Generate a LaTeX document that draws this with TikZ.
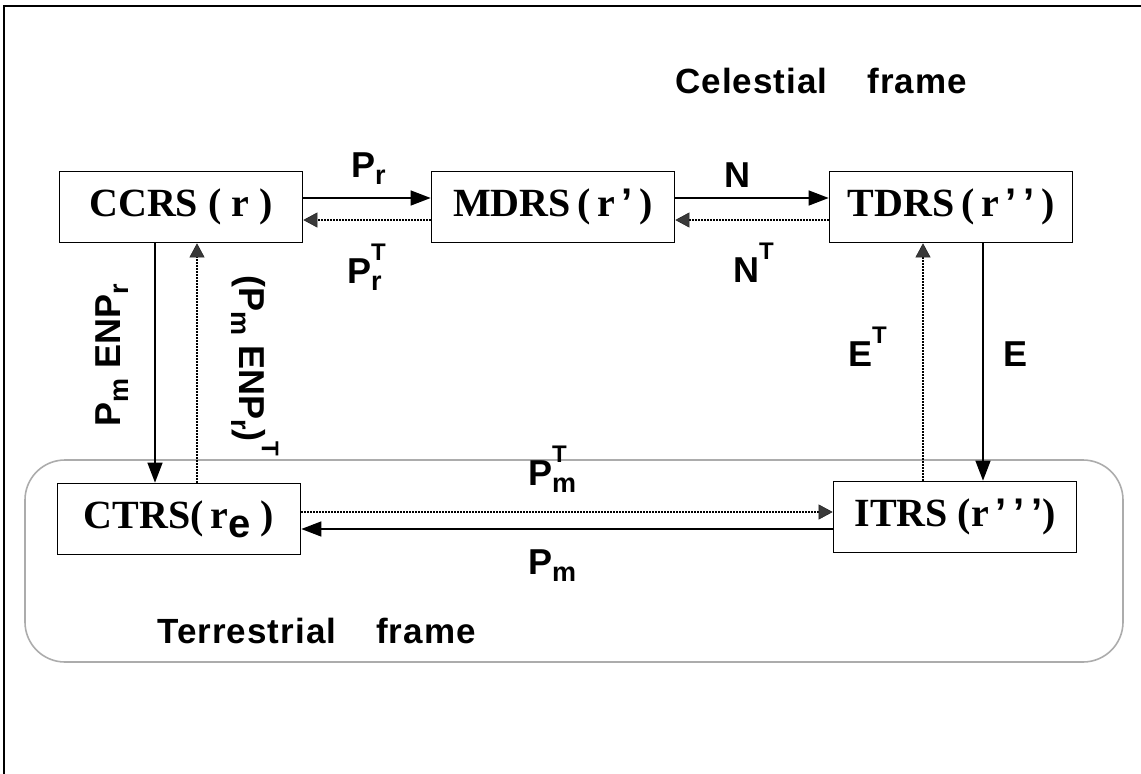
\documentclass[tikz,border=0pt]{standalone}
\usepackage{fontspec}
\setmainfont{Liberation Serif}
\setsansfont{Liberation Sans}
\newfontfamily\spacedsf[LetterSpace=3]{Liberation Sans}
\usepackage{tikz}
\usetikzlibrary{arrows.meta}

\newcommand\boxfont{\fontsize{40}{44}\selectfont\bfseries}
\newcommand\lblfont{\fontsize{36}{40}\selectfont\sffamily\bfseries}
\newcommand\ttlfont{\fontsize{35}{40}\selectfont\spacedsf\bfseries}
\newcommand\q{{\sffamily\char"27}}
\newcommand\sbs[1]{\raisebox{-0.22em}{\fontsize{27}{27}\selectfont #1}}
\newcommand\sps[1]{\raisebox{0.62em}{\fontsize{24}{24}\selectfont #1}}
\newcommand\supsub[2]{\makebox[0pt][l]{\sps{#1}}\sbs{#2}}

\tikzset{
  frm/.style={draw, line width=1.7pt, minimum width=243pt, minimum height=71pt, inner sep=0pt, font=\boxfont},
  lbl/.style={font=\lblfont, inner sep=0pt, anchor=base west},
  fwd/.style={-{Triangle[length=20pt,width=15pt]}, line width=1.4pt},
  bwd/.style={-{Triangle[length=14pt,width=15pt,fill=gray!45!black,color=gray!30!black,line width=0.6pt]}, line width=1.4pt, dash pattern=on 1.5pt off 1.5pt},
}

\begin{document}
\begin{tikzpicture}[x=1pt, y=-1pt]
  \useasboundingbox (0,0) rectangle (1141,774);

  % Outer border (left and top only)
  \draw[line width=2pt] (4,774) -- (4,6) -- (1141,6);

  % Terrestrial frame region
  \draw[gray!65, line width=1.6pt, rounded corners=40pt] (25,460) rectangle (1123,662);

  % Reference systems
  \node[frm] (ccrs) at (181,207) {CCRS\ (\ r\ )};
  \node[frm] (mdrs) at (553,207) {MDRS\,(\,r\,\q\,)};
  \node[frm] (tdrs) at (951,207) {TDRS\,(\,r\,\q\,\q\,)};
  \node[frm] (ctrs) at (179,519) {CTRS(\,r\raisebox{-9pt}{\sffamily e}\ )};
  \node[frm] (itrs) at (955,517) {ITRS\ (r\,\q\,\q\,\q)};

  % Frame titles
  \node[lbl, font=\ttlfont] (celtitle) at (675,93) {Celestial\hspace{40pt}frame};
  \node[lbl, font=\ttlfont] (tertitle) at (157,643) {Terrestrial\hspace{40pt}frame};

  % Forward transformations
  \draw[fwd] ([yshift=9pt]ccrs.east) -- ([yshift=9pt]ccrs.east -| mdrs.west);
  \draw[fwd] ([yshift=9pt]mdrs.east) -- ([yshift=9pt]mdrs.east -| tdrs.west);
  \draw[fwd] ([xshift=32pt]tdrs.south) -- ([xshift=32pt]tdrs.south |- itrs.north);
  \draw[fwd] ([yshift=-12pt]itrs.west) -- ([yshift=-12pt]itrs.west -| ctrs.east);
  \draw[fwd] ([xshift=-26pt]ccrs.south) -- ([xshift=-26pt]ccrs.south |- ctrs.north);

  % Inverse (transposed) transformations
  \draw[bwd] ([yshift=-13pt]mdrs.west) -- ([yshift=-13pt]mdrs.west -| ccrs.east);
  \draw[bwd] ([yshift=-13pt]tdrs.west) -- ([yshift=-13pt]tdrs.west -| mdrs.east);
  \draw[bwd] ([xshift=-32pt]itrs.north) -- ([xshift=-32pt]itrs.north |- tdrs.south);
  \draw[bwd] ([yshift=7pt]ctrs.east) -- ([yshift=7pt]ctrs.east -| itrs.west);
  \draw[bwd] ([xshift=18pt]ctrs.north) -- ([xshift=18pt]ctrs.north |- ccrs.south);

  % Matrix labels
  \node[lbl] (lpr) at (351,177) {P\sbs{r}};
  \node[lbl] (lprt) at (347,283) {P\supsub{T}{r}};
  \node[lbl] (ln) at (724,187) {N};
  \node[lbl] (lnt) at (733,282) {N\sps{T}};
  \node[lbl] (le) at (1003,366) {E};
  \node[lbl] (let) at (848,366) {E\sps{T}};
  \node[lbl] (lpmt) at (528,485) {P\supsub{T}{m}};
  \node[lbl] (lpm) at (528,574) {P\sbs{m}};
  \node[lbl, anchor=center, rotate=90] (lall) at (112,355) {P\sbs{m} ENP\sbs{r}};
  \node[lbl, anchor=center, rotate=-90] (lallt) at (255,366) {(P\sbs{m} ENP\sbs{r})\sps{T}};

\end{tikzpicture}
\end{document}
